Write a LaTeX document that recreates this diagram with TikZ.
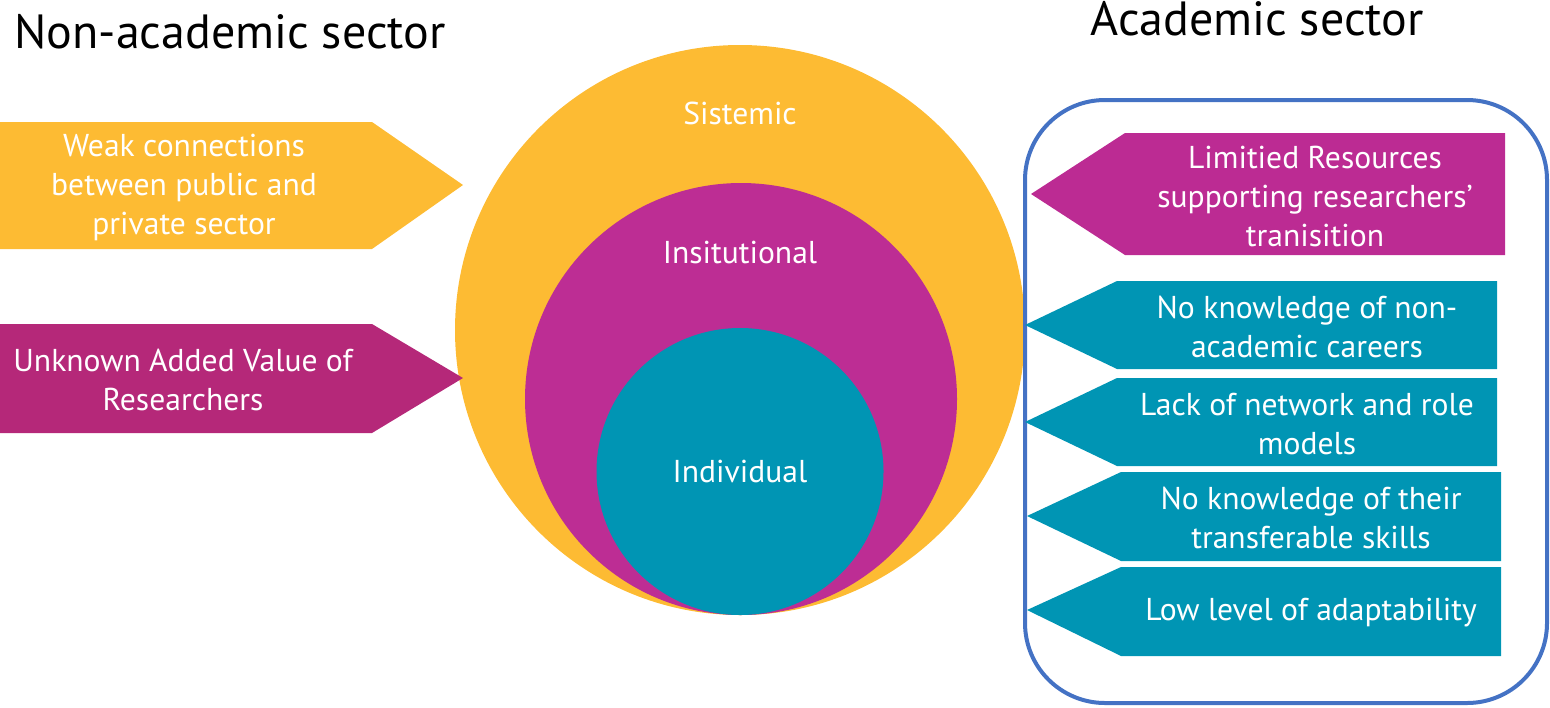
\documentclass[tikz,border=0pt]{standalone}
\usepackage{fontspec}
\setmainfont{PT Sans}
\definecolor{yel}{HTML}{FDBB33}
\definecolor{magL}{HTML}{B52879}
\definecolor{magR}{HTML}{BC2B93}
\definecolor{magC}{HTML}{BD2D94}
\definecolor{tealc}{HTML}{0095B4}
\definecolor{boxblue}{HTML}{4472C4}
\begin{document}
\begin{tikzpicture}[x=0.5pt,y=-0.5pt,
  lbl/.style={text=white,font=\fontsize{15.8}{19.5}\selectfont,align=center,inner sep=0pt},
  ttl/.style={text=black,font=\fontsize{24}{28}\selectfont,inner sep=0pt}]
\useasboundingbox (0,0) rectangle (1550,707);
% circles
\fill[yel] (740,330) circle[radius=285];
\fill[magC] (741,399) circle[radius=216];
\fill[tealc] (740,471.5) circle[radius=143.5];
% blue box
\draw[boxblue,line width=2pt,rounded corners=40pt] (1025,100) rectangle (1547,703);
% left arrows
\fill[yel] (0,122) -- (372,122) -- (463,185) -- (372,249) -- (0,249) -- cycle;
\fill[magL] (0,324) -- (372,324) -- (463,378) -- (372,433) -- (0,433) -- cycle;
% right arrows
\fill[magR] (1125,133) -- (1505,133) -- (1505,255) -- (1125,255) -- (1031,194) -- cycle;
\fill[tealc] (1117,281) -- (1497,281) -- (1497,369) -- (1117,369) -- (1025,325) -- cycle;
\fill[tealc] (1117,378) -- (1497,378) -- (1497,466) -- (1117,466) -- (1025,422) -- cycle;
\fill[tealc] (1121,472) -- (1501,472) -- (1501,561) -- (1121,561) -- (1027,516) -- cycle;
\fill[tealc] (1121,567) -- (1501,567) -- (1501,656) -- (1121,656) -- (1027,610) -- cycle;
% titles
\node[ttl] (tnon) at (230,32) {Non-academic sector};
\node[ttl] (tac) at (1257,19) {Academic sector};
% circle labels
\node[lbl] (csys) at (740,113) {Sistemic};
\node[lbl] (cins) at (740,252) {Insitutional};
\node[lbl] (cind) at (740,471) {Individual};
% left texts
\node[lbl] (l1) at (184,187) {Weak connections\\between public and\\private sector};
\node[lbl] (l2) at (183,380) {Unknown Added Value of\\Researchers};
% right texts
\node[lbl] (r1) at (1315,196) {Limitied Resources\\supporting researchers’\\tranisition};
\node[lbl] (r2) at (1307,327) {No knowledge of non-\\academic careers};
\node[lbl] (r3) at (1307,424) {Lack of network and role\\models};
\node[lbl] (r4) at (1311,518) {No knowledge of their\\transferable skills};
\node[lbl] (r5) at (1311,613) {Low level of adaptability};
\end{tikzpicture}
\end{document}
